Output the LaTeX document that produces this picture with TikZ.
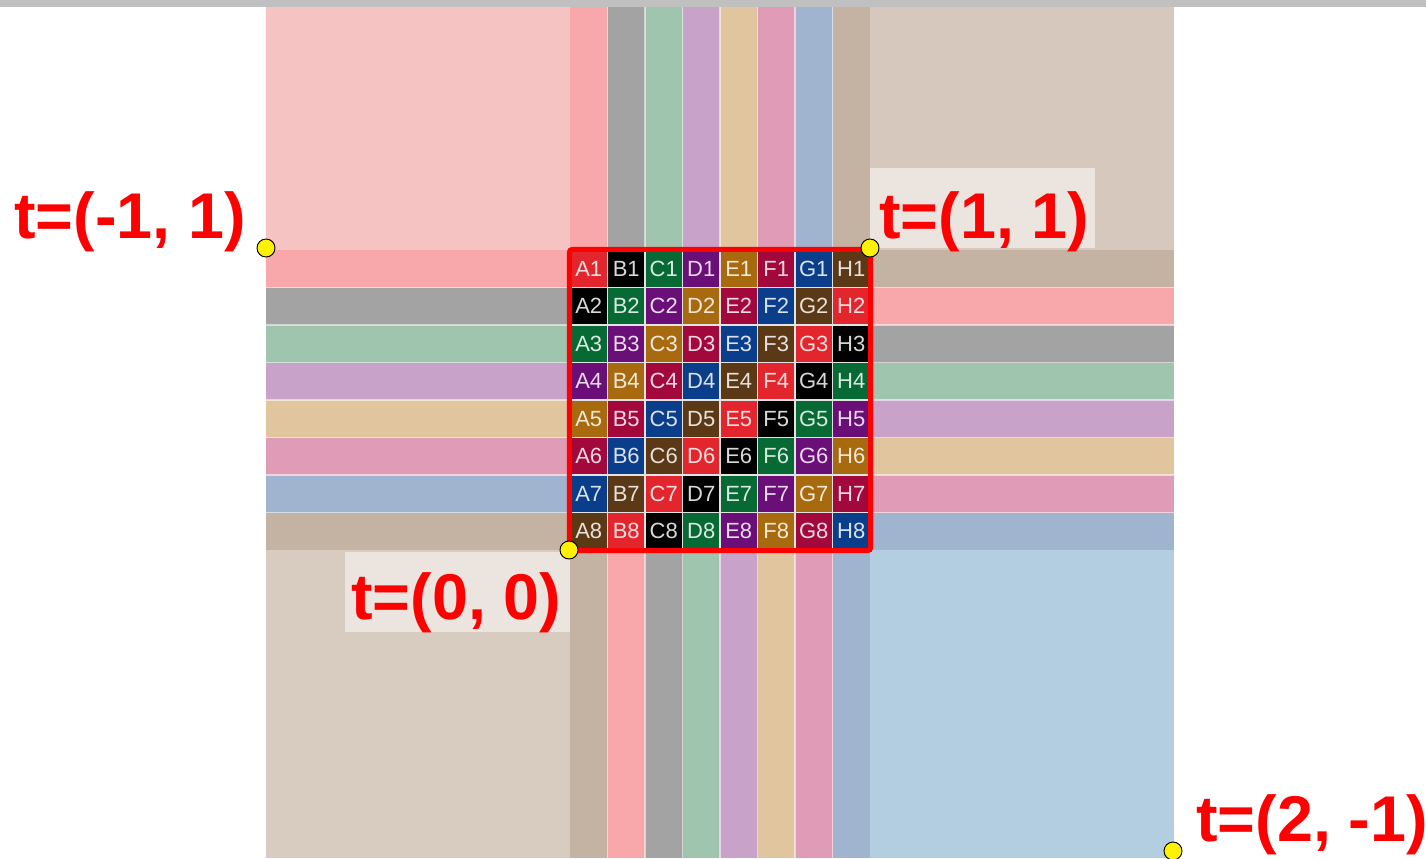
\documentclass[tikz,border=0pt]{standalone}
\usepackage{fontspec}
\setmainfont{Liberation Sans}
\definecolor{c0}{HTML}{E3262E}
\definecolor{c1}{HTML}{000000}
\definecolor{c2}{HTML}{076A34}
\definecolor{c3}{HTML}{6A0E78}
\definecolor{c4}{HTML}{A86A0E}
\definecolor{c5}{HTML}{A2083C}
\definecolor{c6}{HTML}{0B3E8A}
\definecolor{c7}{HTML}{5C3916}
\definecolor{l0}{HTML}{F8A7AB}
\definecolor{l1}{HTML}{A3A3A3}
\definecolor{l2}{HTML}{A0C5AE}
\definecolor{l3}{HTML}{C8A2C8}
\definecolor{l4}{HTML}{E0C59E}
\definecolor{l5}{HTML}{E09CB6}
\definecolor{l6}{HTML}{A0B4D0}
\definecolor{l7}{HTML}{C4B2A3}
\definecolor{cTL}{HTML}{F5C3C2}
\definecolor{cTR}{HTML}{D6C8BC}
\definecolor{cBL}{HTML}{D8CCC0}
\definecolor{cBR}{HTML}{B3CDE1}
\definecolor{topbar}{HTML}{C0C0C0}
\definecolor{lblbg}{HTML}{EBE4DF}
\definecolor{gridred}{HTML}{FF0000}
\tikzset{
  cellbox/.style={minimum width=28.125pt, minimum height=28.125pt, inner sep=0pt,
    draw=white!78!gray, line width=0.8pt, font=\fontsize{16.5}{16.5}\selectfont},
  sep/.style={white, opacity=0.55, line width=0.9pt},
  lbl/.style={anchor=base west, inner sep=0pt, text=gridred,
    font=\fontsize{48.5}{48.5}\selectfont\bfseries},
  dot/.style={circle, fill=yellow, draw=black, line width=0.7pt, minimum size=13.5pt, inner sep=0pt}
}
\begin{document}
\begin{tikzpicture}[x=0.75pt,y=-0.75pt]
\useasboundingbox (0,0) rectangle (1426,858);
\fill[white] (0,0) rectangle (1426,858);
\fill[topbar] (0,0) rectangle (1426,7);
% corner regions
\fill[cTL] (266,7) rectangle (570,250);
\fill[cTR] (870,7) rectangle (1174,250);
\fill[cBL] (266,550) rectangle (570,858);
\fill[cBR] (870,550) rectangle (1174,858);
% stripes
\foreach \i in {0,...,7}{
  \pgfmathtruncatemacro\tc{\i}
  \pgfmathtruncatemacro\bc{mod(\i+7,8)}
  \fill[l\tc] ({570+37.5*\i},7) rectangle ({570+37.5*(\i+1)},250);
  \fill[l\bc] ({570+37.5*\i},550) rectangle ({570+37.5*(\i+1)},858);
  \fill[l\tc] (266,{250+37.5*\i}) rectangle (570,{250+37.5*(\i+1)});
  \fill[l\bc] (870,{250+37.5*\i}) rectangle (1174,{250+37.5*(\i+1)});
}
\foreach \i in {1,...,7}{
  \draw[sep] ({570+37.5*\i},7) -- ({570+37.5*\i},250);
  \draw[sep] ({570+37.5*\i},550) -- ({570+37.5*\i},858);
  \draw[sep] (266,{250+37.5*\i}) -- (570,{250+37.5*\i});
  \draw[sep] (870,{250+37.5*\i}) -- (1174,{250+37.5*\i});
}
% grid cells
\foreach \i/\L in {0/A,1/B,2/C,3/D,4/E,5/F,6/G,7/H}{
  \foreach \j in {0,...,7}{
    \pgfmathtruncatemacro\k{mod(\i+\j,8)}
    \pgfmathtruncatemacro\n{\j+1}
    \node[cellbox, fill=c\k, text=white!85!c\k] (cell-\i-\j)
      at ({570+37.5*\i+18.75},{250+37.5*\j+18.75}) {\L\n};
  }
}
\draw[gridred, line width=3.75pt, rounded corners=2pt]
  (cell-0-0.north west) rectangle (cell-7-7.south east);
% label backgrounds
\fill[lblbg] (870,168) rectangle (1095,248);
\fill[lblbg] (345,552) rectangle (570,632);
% labels
\node[lbl] (lA) at (14,238) {t=(-1, 1)};
\node[lbl] (lB) at (879,238) {t=(1, 1)};
\node[lbl] (lC) at (351,619) {t=(0, 0)};
\node[lbl] (lD) at (1196,841) {t=(2, -1)};
% points
\node[dot] (pA) at (266,248) {};
\node[dot] (pB) at (870,248) {};
\node[dot] (pC) at (569,550) {};
\node[dot] (pD) at (1173,851) {};
\end{tikzpicture}
\end{document}
